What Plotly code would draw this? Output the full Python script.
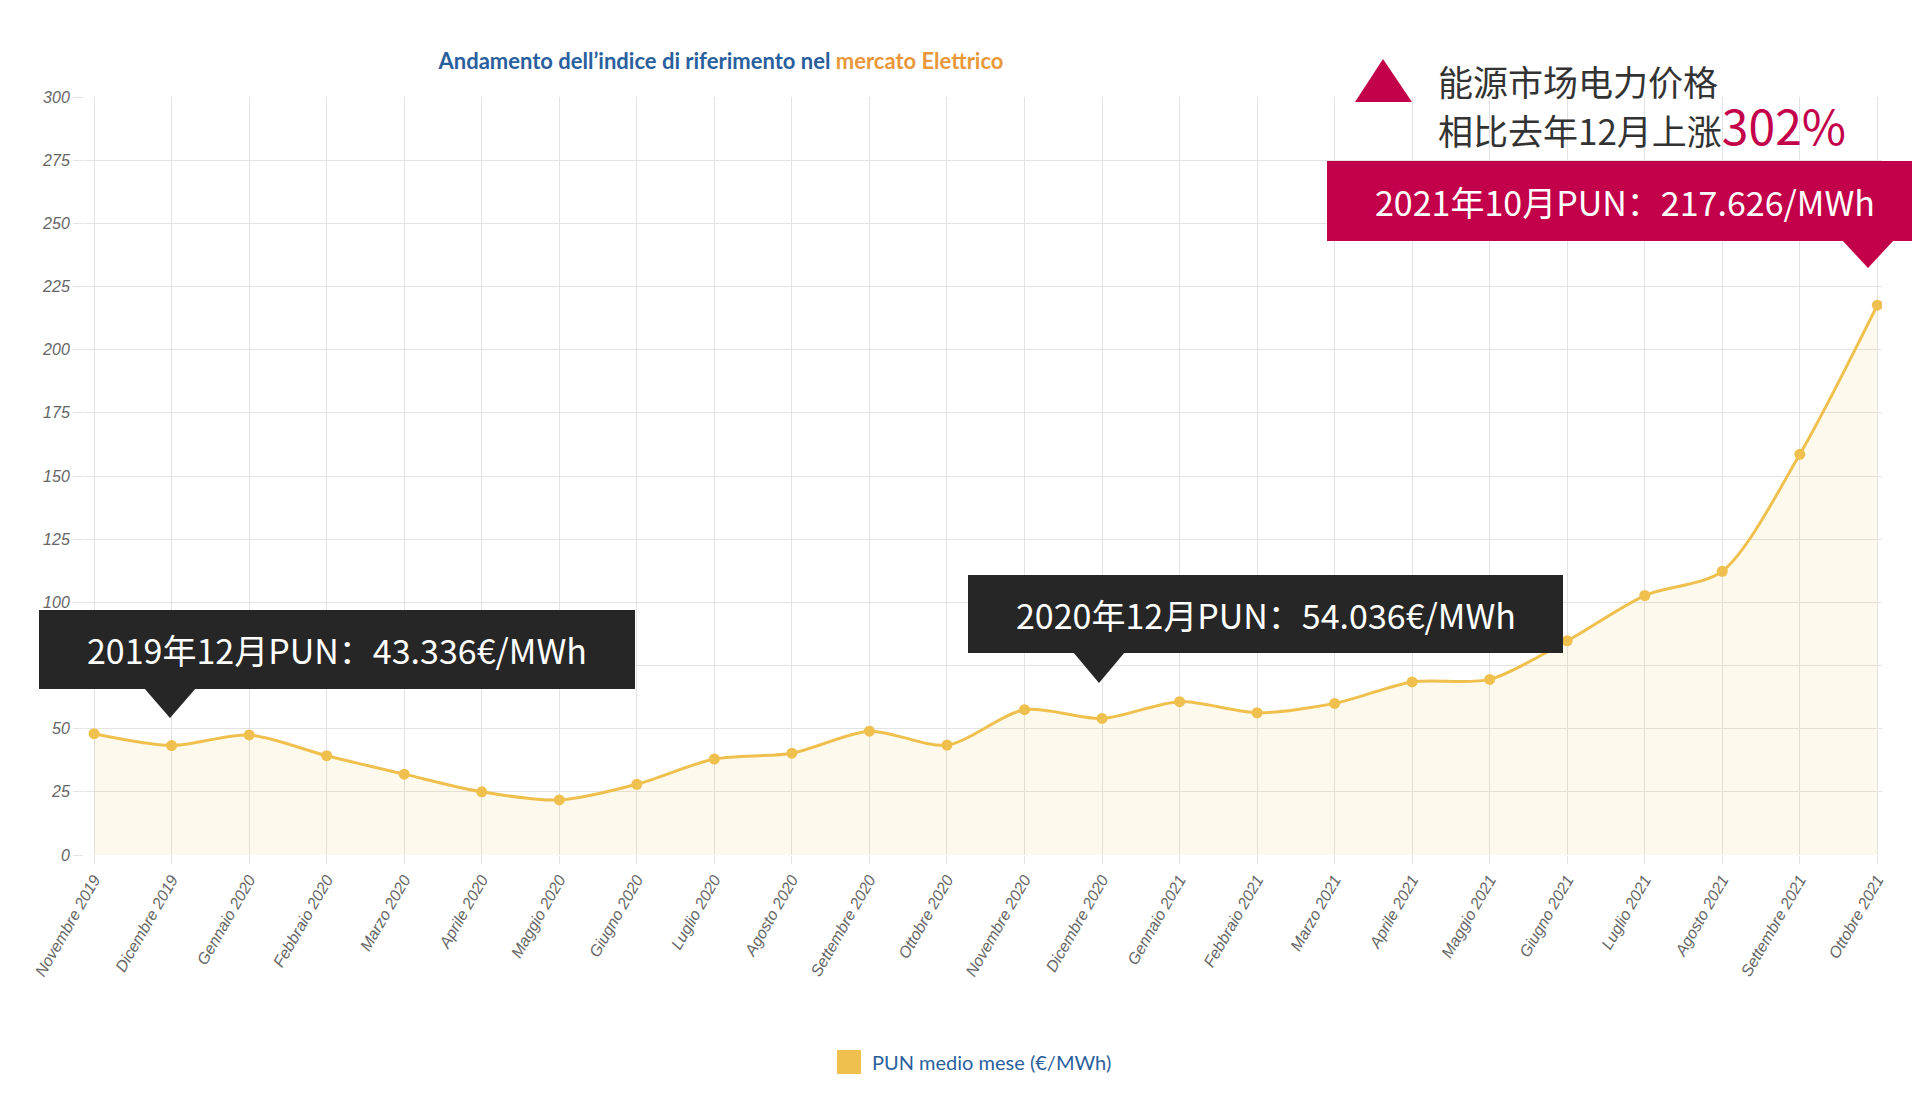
import plotly.graph_objects as go

months = ["Novembre 2019","Dicembre 2019","Gennaio 2020","Febbraio 2020","Marzo 2020","Aprile 2020",
          "Maggio 2020","Giugno 2020","Luglio 2020","Agosto 2020","Settembre 2020","Ottobre 2020",
          "Novembre 2020","Dicembre 2020","Gennaio 2021","Febbraio 2021","Marzo 2021","Aprile 2021",
          "Maggio 2021","Giugno 2021","Luglio 2021","Agosto 2021","Settembre 2021","Ottobre 2021"]
pun = [48.0, 43.336, 47.5, 39.3, 32.0, 25.0, 21.8, 28.0, 38.0, 40.3, 49.0, 43.5,
       57.5, 54.036, 60.7, 56.3, 60.0, 68.5, 69.5, 84.8, 102.7, 112.3, 158.6, 217.626]

L, R, T, B = 76, 1874, 89, 847
W, H = R - L, B - T
def px(x): return (x - L) / W
def py(y): return (B - y) / H

fig = go.Figure()
fig.add_trace(go.Scatter(x=list(range(len(months))), y=pun, mode="lines+markers",
    line=dict(color="#f0c04e", width=3, shape="spline", smoothing=0.8),
    marker=dict(size=11, color="#f0c04e"),
    fill="tozeroy", fillcolor="rgba(240,192,78,0.1)", showlegend=False, hoverinfo="skip"))

shapes, ann = [], []
def callout(x0, x1, y0, y1, tip, color, text):
    shapes.append(dict(type="rect", xref="paper", yref="paper", x0=px(x0), x1=px(x1), y0=py(y1), y1=py(y0),
                       fillcolor=color, line=dict(width=0), layer="above"))
    tx, ty = tip
    shapes.append(dict(type="path", xref="paper", yref="paper",
        path=f"M {px(tx-26)} {py(y1-1)} L {px(tx+26)} {py(y1-1)} L {px(tx)} {py(ty)} Z",
        fillcolor=color, line=dict(width=0), layer="above"))
    ann.append(dict(xref="paper", yref="paper", x=px((x0+x1)/2), y=py((y0+y1)/2), text=text, showarrow=False,
                    font=dict(family="Noto Sans CJK SC", size=34, color="white"), xanchor="center", yanchor="middle"))

callout(31, 627, 602, 681, (162, 710), "#262626", "2019年12月PUN：43.336€/MWh")
callout(960, 1555, 567, 645, (1091, 675), "#262626", "2020年12月PUN：54.036€/MWh")
callout(1319, 1914, 153, 233, (1860, 260), "#c3004a", "2021年10月PUN：217.626/MWh")

shapes.append(dict(type="path", xref="paper", yref="paper",
    path=f"M {px(1347)} {py(94)} L {px(1404)} {py(94)} L {px(1375)} {py(51)} Z",
    fillcolor="#c3004a", line=dict(width=0)))
ann.append(dict(xref="paper", yref="paper", x=px(1428), y=py(73), text="能源市场电力价格", showarrow=False,
                xanchor="left", yanchor="middle", font=dict(family="Noto Sans CJK SC", size=35, color="#333")))
ann.append(dict(xref="paper", yref="paper", x=px(1428), y=py(116),
                text="相比去年12月上涨<span style='color:#c3004a;font-size:48px'>302%</span>", showarrow=False,
                xanchor="left", yanchor="middle", font=dict(family="Noto Sans CJK SC", size=35, color="#333")))

# legend
shapes.append(dict(type="rect", xref="paper", yref="paper", x0=px(829), x1=px(853), y0=py(1066), y1=py(1042),
                   fillcolor="#f0c04e", line=dict(width=0)))
ann.append(dict(xref="paper", yref="paper", x=px(862), y=py(1054), text="PUN medio mese (€/MWh)", showarrow=False,
                xanchor="left", yanchor="middle", font=dict(family="Lato", size=20, color="#2a5f9e")))

fig.update_layout(
    width=1920, height=1102, margin=dict(l=L, r=1920-R, t=T, b=1102-B),
    paper_bgcolor="white", plot_bgcolor="white",
    title=dict(text="<b>Andamento dell’indice di riferimento nel <span style='color:#e8983a'>mercato Elettrico</span></b>",
               x=713/1920, xanchor="center", y=1-53/1102, yanchor="middle",
               font=dict(family="Lato", size=22, color="#2a5f9e")),
    shapes=shapes, annotations=ann,
    xaxis=dict(tickmode="array", tickvals=list(range(len(months))), ticktext=months, tickangle=-60,
               range=[-0.13, 23.06], showgrid=True, gridcolor="#e3e3e3", zeroline=False,
               ticks="outside", ticklen=8, tickcolor="#e3e3e3",
               tickfont=dict(family="Liberation Sans", size=16, color="#666", style="italic")),
    yaxis=dict(range=[0, 300], dtick=25, showgrid=True, gridcolor="#e3e3e3", zeroline=False,
               ticks="outside", ticklen=10, tickcolor="#e3e3e3",
               tickfont=dict(family="Liberation Sans", size=16, color="#666", style="italic")),
)
fig.write_html("out.html")
